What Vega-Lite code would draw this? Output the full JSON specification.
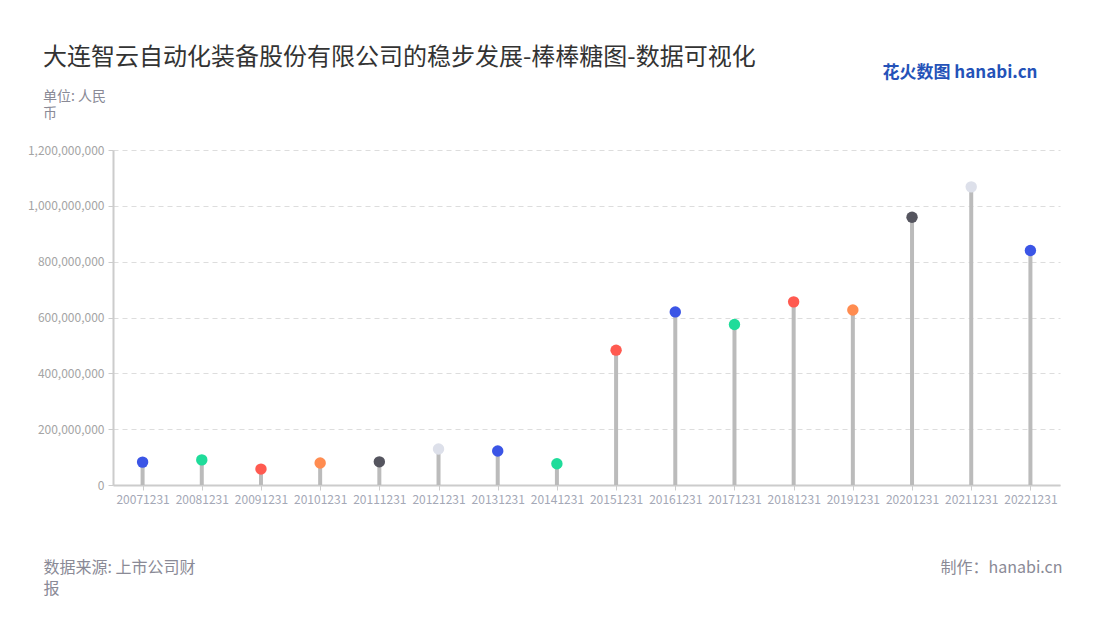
{
  "$schema": "https://vega.github.io/schema/vega-lite/v6.json",
  "autosize": "none",
  "width": 947,
  "height": 335,
  "padding": {"left": 113, "top": 150, "right": 40, "bottom": 135},
  "background": "white",
  "config": {
    "font": "Noto Sans CJK SC",
    "view": {"stroke": null}
  },
  "title": {
    "text": "大连智云自动化装备股份有限公司的稳步发展-棒棒糖图-数据可视化",
    "subtitle": ["单位: 人民", "币"],
    "anchor": "start",
    "frame": "group",
    "dx": -70,
    "dy": 86,
    "fontSize": 24,
    "fontWeight": "normal",
    "color": "#333333",
    "subtitleFontSize": 14,
    "subtitleColor": "#8a8a96",
    "subtitlePadding": 20,
    "subtitleLineHeight": 17,
    "offset": 28
  },
  "data": {
    "values": [
      {"date": "20071231", "value": 82000000},
      {"date": "20081231", "value": 90000000},
      {"date": "20091231", "value": 57000000},
      {"date": "20101231", "value": 79000000},
      {"date": "20111231", "value": 83000000},
      {"date": "20121231", "value": 129000000},
      {"date": "20131231", "value": 122000000},
      {"date": "20141231", "value": 76000000},
      {"date": "20151231", "value": 483000000},
      {"date": "20161231", "value": 620000000},
      {"date": "20171231", "value": 575000000},
      {"date": "20181231", "value": 656000000},
      {"date": "20191231", "value": 627000000},
      {"date": "20201231", "value": 959000000},
      {"date": "20211231", "value": 1068000000},
      {"date": "20221231", "value": 840000000}
    ]
  },
  "resolve": {"axis": {"x": "independent", "y": "independent"}},
  "layer": [
    {
      "mark": {"type": "rule", "stroke": "#bbbbbb", "strokeWidth": 4},
      "encoding": {
        "x": {
          "field": "date",
          "type": "nominal",
          "sort": null,
          "scale": {"type": "point", "padding": 0.5},
          "axis": {
            "labelAngle": 0,
            "labelFontSize": 12,
            "labelColor": "#a4a8b6",
            "labelPadding": 4,
            "labelOverlap": false,
            "tickColor": "#cccccc",
            "tickSize": 5,
            "domainColor": "#cccccc",
            "domainWidth": 2,
            "grid": false,
            "title": ["数据来源: 上市公司财", "报"],
            "titleAnchor": "start",
            "titleAlign": "left",
            "titleBaseline": "middle",
            "titleX": -70,
            "titleY": 82,
            "titleFontSize": 16,
            "titleFontWeight": "normal",
            "titleColor": "#8a8a96",
            "titleLineHeight": 21
          }
        },
        "y": {
          "field": "value",
          "type": "quantitative",
          "scale": {"domain": [0, 1200000000], "nice": false},
          "axis": {
            "values": [0, 200000000, 400000000, 600000000, 800000000, 1000000000, 1200000000],
            "format": ",d",
            "labelFontSize": 12,
            "labelColor": "#a4a4a4",
            "labelPadding": 4,
            "tickColor": "#cccccc",
            "tickSize": 5,
            "domainColor": "#cccccc",
            "domainWidth": 2,
            "gridColor": "#dddddd",
            "gridDash": [5, 4],
            "gridWidth": 1,
            "title": null
          }
        },
        "y2": {"datum": 0}
      }
    },
    {
      "mark": {"type": "point", "filled": true, "opacity": 1, "size": 130},
      "encoding": {
        "x": {
          "field": "date",
          "type": "nominal",
          "sort": null,
          "axis": {
            "orient": "top",
            "labels": false,
            "ticks": false,
            "domain": false,
            "grid": false,
            "title": "花火数图 hanabi.cn",
            "titleAnchor": "start",
            "titleAlign": "right",
            "titleBaseline": "middle",
            "titleX": 924,
            "titleY": -78,
            "titleFontSize": 17,
            "titleFontWeight": "bold",
            "titleColor": "#2452b8"
          }
        },
        "y": {
          "field": "value",
          "type": "quantitative",
          "axis": {
            "orient": "right",
            "labels": false,
            "ticks": false,
            "domain": false,
            "grid": false,
            "title": "制作：hanabi.cn",
            "titleAngle": 0,
            "titleAlign": "right",
            "titleBaseline": "middle",
            "titleX": 2,
            "titleY": 417,
            "titleFontSize": 16,
            "titleFontWeight": "normal",
            "titleColor": "#8a8a96"
          }
        },
        "color": {
          "field": "date",
          "type": "nominal",
          "legend": null,
          "scale": {
            "domain": ["20071231","20081231","20091231","20101231","20111231","20121231","20131231","20141231","20151231","20161231","20171231","20181231","20191231","20201231","20211231","20221231"],
            "range": ["#3b55e6","#1fdc9a","#ff5a50","#ff8c50","#55555f","#dde0ea","#3b55e6","#1fdc9a","#ff5a50","#3b55e6","#1fdc9a","#ff5a50","#ff8c50","#55555f","#dde0ea","#3b55e6"]
          }
        }
      }
    }
  ]
}
